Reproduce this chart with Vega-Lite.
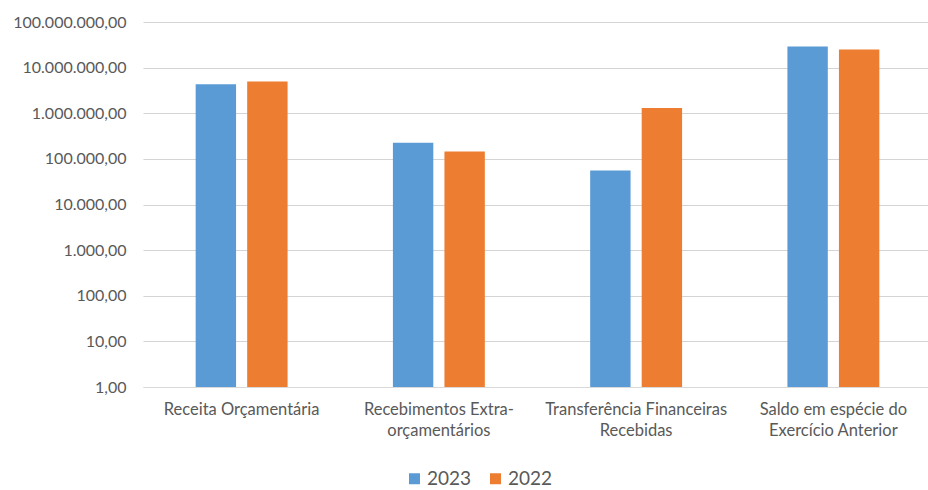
{
  "$schema": "https://vega.github.io/schema/vega-lite/v6.json",
  "autosize": "none",
  "width": 789,
  "height": 365,
  "padding": {"left": 143, "top": 22, "right": 0, "bottom": 103},
  "background": "white",
  "config": {
    "locale": {"number": {"decimal": ",", "thousands": ".", "grouping": [3], "currency": ["R$", ""]}},
    "view": {"stroke": null},
    "font": "Lato"
  },
  "data": {
    "values": [
      {"categoria": "Receita Orçamentária", "ano": "2023", "valor": 4340000},
      {"categoria": "Receita Orçamentária", "ano": "2022", "valor": 4970000},
      {"categoria": "Recebimentos Extra-orçamentários", "ano": "2023", "valor": 225000},
      {"categoria": "Recebimentos Extra-orçamentários", "ano": "2022", "valor": 146000},
      {"categoria": "Transferência Financeiras Recebidas", "ano": "2023", "valor": 55800},
      {"categoria": "Transferência Financeiras Recebidas", "ano": "2022", "valor": 1310000},
      {"categoria": "Saldo em espécie do Exercício Anterior", "ano": "2023", "valor": 29000000},
      {"categoria": "Saldo em espécie do Exercício Anterior", "ano": "2022", "valor": 25000000}
    ]
  },
  "mark": {"type": "bar"},
  "encoding": {
    "x": {
      "field": "categoria",
      "type": "nominal",
      "sort": null,
      "title": null,
      "scale": {"paddingInner": 0.534, "paddingOuter": 0.267},
      "axis": {
        "labelAngle": 0,
        "ticks": false,
        "domainColor": "#d9d9d9",
        "domainWidth": 1,
        "labelColor": "#595959",
        "labelFontSize": 16.5,
        "labelPadding": 14,
        "labelLineHeight": 21,
        "labelLimit": 0,
        "labelExpr": "datum.value == 'Recebimentos Extra-orçamentários' ? ['Recebimentos Extra-', 'orçamentários'] : datum.value == 'Transferência Financeiras Recebidas' ? ['Transferência Financeiras', 'Recebidas'] : datum.value == 'Saldo em espécie do Exercício Anterior' ? ['Saldo em espécie do', 'Exercício Anterior'] : datum.value"
      }
    },
    "xOffset": {
      "field": "ano",
      "type": "nominal",
      "sort": ["2023", "2022"],
      "scale": {"paddingInner": 0.216, "paddingOuter": 0}
    },
    "y": {
      "field": "valor",
      "type": "quantitative",
      "title": null,
      "scale": {"type": "log", "domain": [1, 100000000], "nice": false},
      "axis": {
        "values": [1, 10, 100, 1000, 10000, 100000, 1000000, 10000000, 100000000],
        "format": ",.2f",
        "domain": false,
        "ticks": false,
        "labelColor": "#595959",
        "labelFontSize": 16,
        "labelPadding": 17,
        "gridColor": "#d4d4d4",
        "gridWidth": 1.2
      }
    },
    "y2": {"datum": 1},
    "color": {
      "field": "ano",
      "type": "nominal",
      "sort": ["2023", "2022"],
      "scale": {"domain": ["2023", "2022"], "range": ["#5B9BD5", "#ED7D31"]},
      "legend": {
        "title": null,
        "orient": "none",
        "direction": "horizontal",
        "legendX": 262,
        "legendY": 447,
        "symbolType": "square",
        "symbolSize": 121,
        "symbolStrokeWidth": 0,
        "labelFontSize": 19,
        "labelColor": "#595959",
        "labelOffset": 3,
        "columnPadding": 14,
        "padding": 0
      }
    }
  }
}
